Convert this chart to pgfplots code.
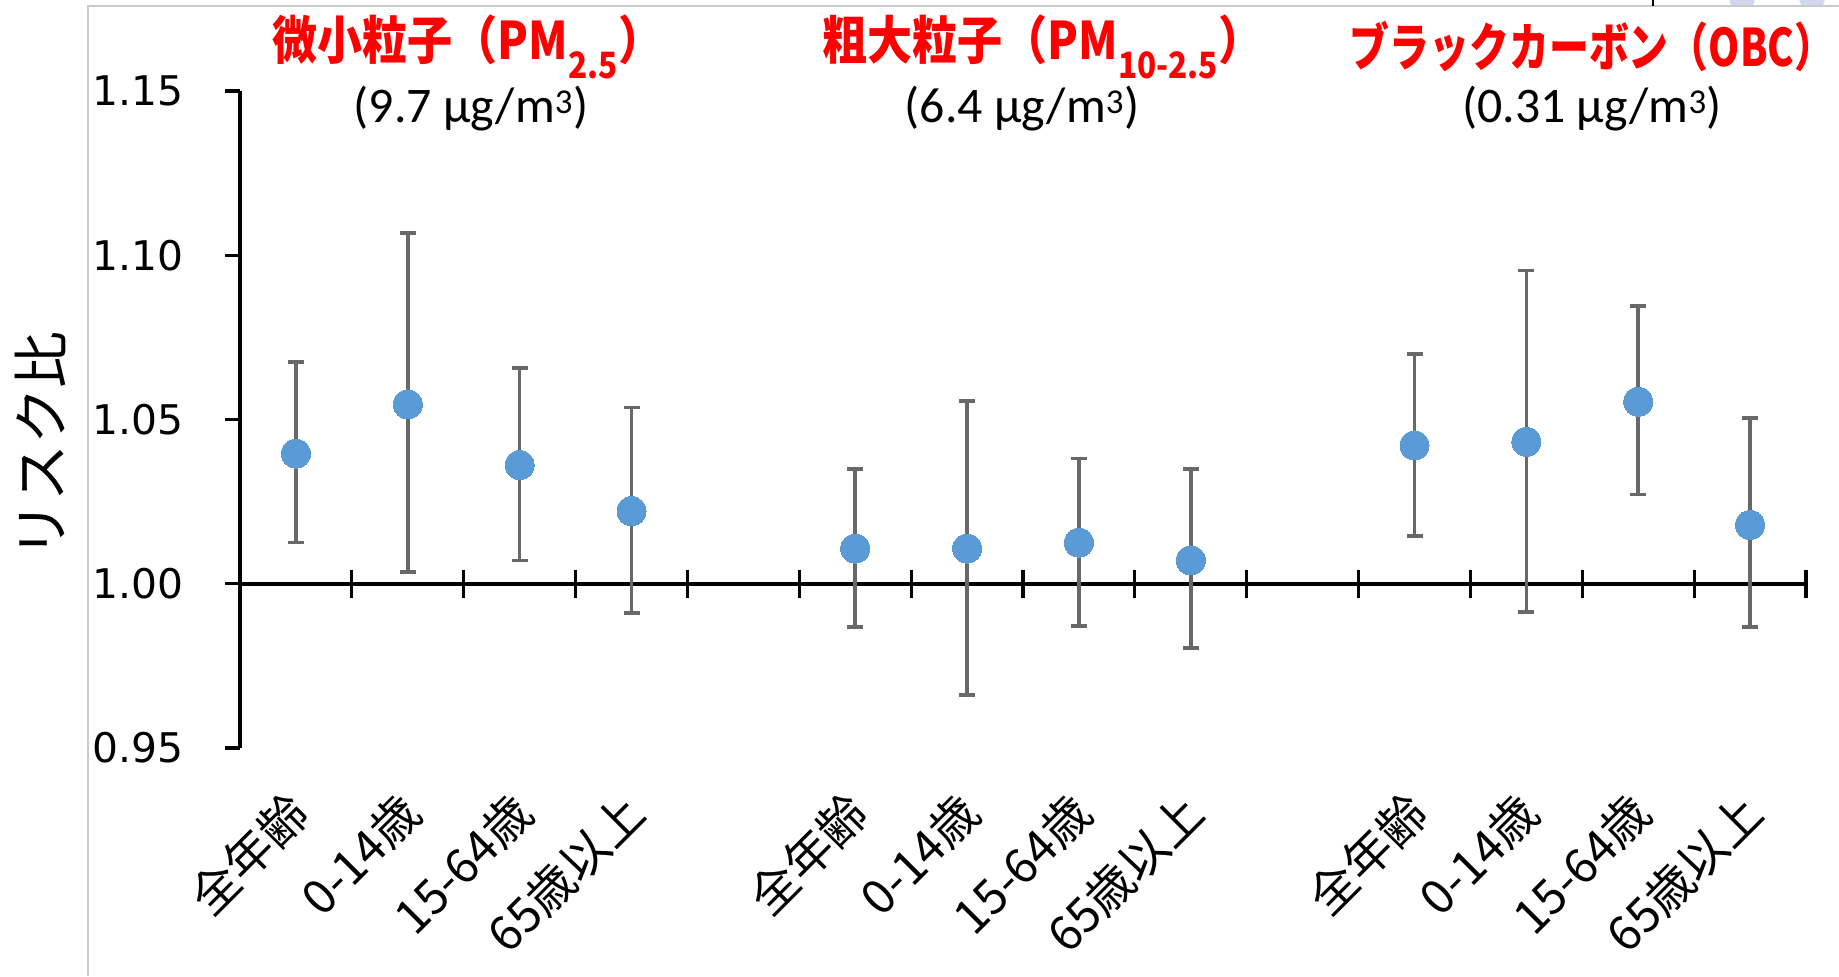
\documentclass[border=0pt]{standalone}
\usepackage{fontspec}
\usepackage{pgfplots}
\pgfplotsset{compat=1.18}
\usepackage{pgfplotstable}
\setmainfont{DejaVu Sans}
\newfontfamily\jp{Noto Sans CJK JP}
\newfontfamily\carl{Carlito}
\definecolor{mk}{HTML}{5B9BD5}
\definecolor{eb}{HTML}{686868}
\definecolor{bd}{HTML}{CACACA}
\definecolor{lav}{HTML}{D2D5EC}

\pgfplotstableread{
x    y      hi     lo
0.5  1.0396 1.0675 1.0125
1.5  1.0546 1.1068 1.0036
2.5  1.0361 1.0657 1.0071
3.5  1.0221 1.0536 0.9911
5.5  1.0107 1.0350 0.9868
6.5  1.0107 1.0557 0.9661
7.5  1.0125 1.0382 0.9871
8.5  1.0071 1.0350 0.9804
10.5 1.0421 1.0700 1.0146
11.5 1.0432 1.0954 0.9914
12.5 1.0554 1.0846 1.0271
13.5 1.0179 1.0504 0.9868
}\data

\begin{document}
\begin{tikzpicture}[x=1bp,y=1bp]
\path[use as bounding box] (0,0) rectangle (1839,976);
% screenshot frame decorations
\begin{scope}
\clip (0,970) rectangle (1839,976);
\fill[lav] (1742,978) circle (13);
\fill[lav] (1812,978) circle (13);
\end{scope}
\draw[bd, line width=1.5bp] (88,0) -- (88,970) -- (1839,970);
\draw[black, line width=1.5bp] (1653,976) -- (1653,970);

% x axis line at 1.00 with crossing ticks
\begin{axis}[
  at={(240bp,392bp)}, anchor=south west,
  scale only axis, width=1566bp, height=493bp,
  xmin=0, xmax=14, ymin=1, ymax=1.15,
  axis x line=bottom, axis y line=none,
  x axis line style={-, line width=3.2bp, black},
  xtick={1,...,14}, xticklabels={},
  tick align=center, major tick length=28bp,
  xtick style={line width=3.2bp, black},
]
\addplot[draw=none, forget plot] coordinates {(0,1.1)};
\end{axis}

% main axis
\begin{axis}[
  at={(240bp,228bp)}, anchor=south west,
  scale only axis, width=1566bp, height=657bp,
  xmin=0, xmax=14, ymin=0.95, ymax=1.15,
  axis x line=bottom, axis y line=left,
  x axis line style={draw=none},
  y axis line style={-, line width=3.2bp, black},
  ytick={0.95,1.00,1.05,1.10,1.15},
  yticklabel style={/pgf/number format/fixed, /pgf/number format/fixed zerofill,
    /pgf/number format/precision=2, /pgf/number format/assume math mode=true,
    font=\fontsize{41}{44}\selectfont, inner sep=0pt, xshift=-41bp},
  ytick style={line width=3.2bp, black},
  tick align=outside, major tick length=15bp,
  xtick={0.5,1.5,2.5,3.5,5.5,6.5,7.5,8.5,10.5,11.5,12.5,13.5},
  xticklabels={全年齢,0-14歳,15-64歳,65歳以上,全年齢,0-14歳,15-64歳,65歳以上,全年齢,0-14歳,15-64歳,65歳以上},
  xticklabel style={font=\jp\fontsize{48}{48}\selectfont, inner sep=0pt,
    xshift=-12bp, yshift=-25bp, rotate=45, anchor=north east},
  xtick style={draw=none},
  clip=false,
]
\addplot[mk, only marks, mark=*, mark size=14.5bp, mark options={draw=mk, fill=mk, line width=0pt},
  error bars/.cd, y dir=both, y explicit,
  error bar style={draw=eb, line width=3.5bp, solid},
  error mark options={draw=eb, line width=3.5bp, rotate=90, mark size=8bp}]
  table[x=x, y=y, y error plus expr=\thisrow{hi}-\thisrow{y}, y error minus expr=\thisrow{y}-\thisrow{lo}]{\data};
\addplot[mk, only marks, mark=*, mark size=14.5bp, mark options={draw=mk, fill=mk, line width=0pt}]
  table[x=x, y=y]{\data};
\end{axis}

% y label
\node[rotate=90, font=\jp\fontsize{57}{57}\selectfont] at (40,531) {リスク比};

% group titles
\node[red, inner sep=0pt, xscale=0.87, font=\jp\bfseries\fontsize{52}{52}\selectfont] at (468,929) {微小粒子（PM\textsubscript{2.5}）};
\node[red, inner sep=0pt, xscale=0.87, font=\jp\bfseries\fontsize{52}{52}\selectfont] at (1043,929) {粗大粒子（PM\textsubscript{10-2.5}）};
\node[red, inner sep=0pt, xscale=0.77, font=\jp\bfseries\fontsize{52}{52}\selectfont] at (1592,929) {ブラックカーボン（OBC）};
\node[font=\carl\fontsize{50}{50}\selectfont] at (471,867) {(9.7 µg/m\textsuperscript{3})};
\node[font=\carl\fontsize{50}{50}\selectfont] at (1022,867) {(6.4 µg/m\textsuperscript{3})};
\node[font=\carl\fontsize{50}{50}\selectfont] at (1592,867) {(0.31 µg/m\textsuperscript{3})};
\end{tikzpicture}
\end{document}
